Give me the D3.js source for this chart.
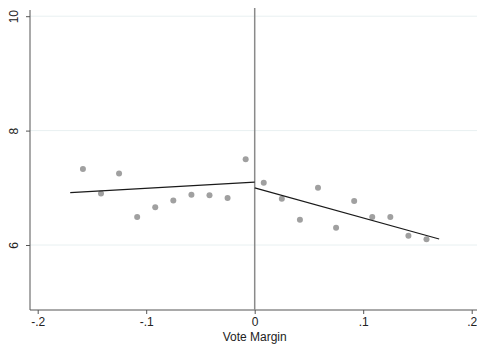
<!DOCTYPE html>
<html>
<head>
<meta charset="utf-8">
<script src="https://cdn.jsdelivr.net/npm/d3@7"></script>
<style>
  html, body { margin: 0; padding: 0; background: #fff; }
  svg { display: block; }
  text { font-family: "Liberation Sans", Arial, sans-serif; fill: #222; }
</style>
</head>
<body>
<svg id="chart" width="477" height="347"></svg>
<script>
// Binned means of the outcome by vote margin (bin width 1/60)
const binCentersLeft = [-0.15833, -0.14167, -0.125, -0.10833, -0.09167, -0.075, -0.05833, -0.04167, -0.025, -0.00833];
const binMeansLeft   = [7.33, 6.90, 7.25, 6.49, 6.66, 6.78, 6.88, 6.87, 6.82, 7.50];
const binCentersRight = [0.00833, 0.025, 0.04167, 0.05833, 0.075, 0.09167, 0.10833, 0.125, 0.14167, 0.15833];
const binMeansRight   = [7.09, 6.81, 6.44, 7.00, 6.30, 6.77, 6.49, 6.49, 6.16, 6.10];

// Linear fits on each side of the cutoff: [x, fitted y] endpoints
const fitLeftX  = [-0.17, 0];
const fitLeftY  = [6.914, 7.10];
const fitRightX = [0, 0.17];
const fitRightY = [7.00, 6.105];

const xTicks = [-0.2, -0.1, 0, 0.1, 0.2];
const xTickLabels = ["-.2", "-.1", "0", ".1", ".2"];
const yTicks = [6, 8, 10];
const yTickLabels = ["6", "8", "10"];
const xTitle = "Vote Margin";

const svg = d3.select("#chart");
const axisLeftX = 30, axisBottomY = 310, axisTopY = 10, rightEdge = 477;

const x = d3.scaleLinear().domain([-0.2, 0.2]).range([37.7, 471.7]);
const y = d3.scaleLinear().domain([6, 10]).range([245, 16.2]);

// Horizontal grid lines
svg.append("g").selectAll("line").data(yTicks).join("line")
  .attr("x1", axisLeftX).attr("x2", rightEdge)
  .attr("y1", d => y(d)).attr("y2", d => y(d))
  .attr("stroke", "#e8f0f1").attr("stroke-width", 1);

// Y axis
const yAxis = d3.axisLeft(y).tickValues(yTicks)
  .tickFormat((d, i) => yTickLabels[i]).tickSize(4).tickPadding(0);
const gy = svg.append("g").attr("transform", `translate(${axisLeftX},0)`).call(yAxis);
gy.select(".domain").remove();
gy.append("line").attr("x1", 0).attr("x2", 0).attr("y1", axisTopY).attr("y2", axisBottomY)
  .attr("stroke", "#555").attr("stroke-width", 1);
gy.selectAll(".tick line").attr("stroke", "#555");
gy.selectAll(".tick text")
  .attr("x", 0).attr("dy", null)
  .attr("transform", "translate(-16,0) rotate(-90)")
  .attr("text-anchor", "middle").attr("dominant-baseline", "central")
  .style("font-size", "12px").style("fill", "#222");

// X axis
const xAxis = d3.axisBottom(x).tickValues(xTicks)
  .tickFormat((d, i) => xTickLabels[i]).tickSize(4).tickPadding(3);
const gx = svg.append("g").attr("transform", `translate(0,${axisBottomY})`).call(xAxis);
gx.select(".domain").remove();
gx.append("line").attr("x1", axisLeftX).attr("x2", rightEdge).attr("y1", 0).attr("y2", 0)
  .attr("stroke", "#555").attr("stroke-width", 1);
gx.selectAll(".tick line").attr("stroke", "#555");
gx.selectAll(".tick text").style("font-size", "12px").style("fill", "#222");

// X axis title
svg.append("text")
  .attr("x", x(0)).attr("y", 341)
  .attr("text-anchor", "middle")
  .style("font-size", "12px")
  .text(xTitle);

// Cutoff line at zero
svg.append("line")
  .attr("x1", x(0)).attr("x2", x(0))
  .attr("y1", axisTopY - 2).attr("y2", axisBottomY)
  .attr("stroke", "#8a8a8a").attr("stroke-width", 1.5);

// Binned scatter
const pts = binCentersLeft.map((c, i) => [c, binMeansLeft[i]])
  .concat(binCentersRight.map((c, i) => [c, binMeansRight[i]]));
svg.append("g").selectAll("circle").data(pts).join("circle")
  .attr("cx", d => x(d[0])).attr("cy", d => y(d[1])).attr("r", 3)
  .attr("fill", "#a0a0a0");

// Fitted lines
const line = d3.line().x(d => x(d[0])).y(d => y(d[1]));
[[fitLeftX, fitLeftY], [fitRightX, fitRightY]].forEach(([xs, ys]) => {
  svg.append("path")
    .datum(xs.map((v, i) => [v, ys[i]]))
    .attr("d", line)
    .attr("fill", "none").attr("stroke", "#1a1a1a").attr("stroke-width", 1.2);
});
</script>
</body>
</html>
